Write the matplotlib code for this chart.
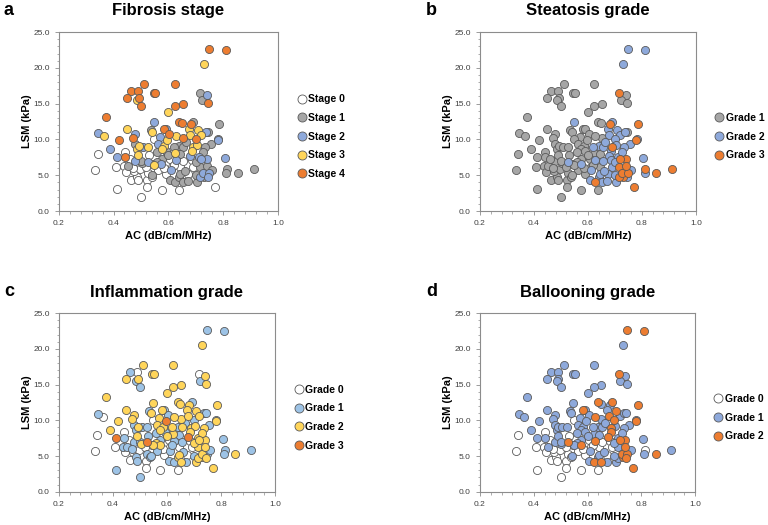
import numpy as np
import matplotlib.pyplot as plt
from matplotlib.lines import Line2D

plt.rcParams['font.family'] = ['Liberation Sans', 'DejaVu Sans']

# AC (dB/cm/MHz) and LSM (kPa) for each patient
ac = [0.747, 0.810, 0.731, 0.512, 0.624, 0.464, 0.490, 0.546, 0.553, 0.450,
      0.492, 0.487, 0.500, 0.652, 0.623, 0.717, 0.741, 0.722, 0.746, 0.600,
      0.374, 0.547, 0.639, 0.650, 0.691, 0.683, 0.786, 0.345, 0.365, 0.448,
      0.478, 0.470, 0.420, 0.535, 0.540, 0.583, 0.590, 0.604, 0.571, 0.548,
      0.652, 0.627, 0.674, 0.707, 0.720, 0.679, 0.700, 0.736, 0.745, 0.780,
      0.782, 0.756, 0.735, 0.388, 0.478, 0.485, 0.492, 0.506, 0.525, 0.563,
      0.585, 0.595, 0.576, 0.640, 0.655, 0.689, 0.703, 0.686, 0.678, 0.713,
      0.741, 0.806, 0.623, 0.591, 0.333, 0.342, 0.409, 0.412, 0.442, 0.438,
      0.444, 0.464, 0.484, 0.488, 0.475, 0.497, 0.500, 0.521, 0.527, 0.539,
      0.545, 0.521, 0.564, 0.576, 0.606, 0.612, 0.643, 0.639, 0.685, 0.691,
      0.673, 0.770, 0.452, 0.541, 0.606, 0.625, 0.640, 0.643, 0.652, 0.671,
      0.706, 0.731, 0.715, 0.728, 0.813, 0.810, 0.853, 0.912, 0.643, 0.503,
      0.576, 0.560, 0.412, 0.442, 0.478, 0.526, 0.575, 0.610, 0.627, 0.714,
      0.728, 0.748, 0.489, 0.548, 0.660, 0.700, 0.720, 0.740, 0.620, 0.590,
      0.655, 0.600, 0.530, 0.470, 0.500, 0.560, 0.620, 0.665, 0.700, 0.745,
      0.760, 0.520, 0.585, 0.460]
lsm = [22.6, 22.5, 20.5, 17.7, 17.7, 16.75, 16.8, 16.5, 16.5, 15.8,
       15.8, 15.5, 14.6, 15.0, 14.6, 16.5, 16.2, 15.5, 15.1, 13.85,
       13.2, 12.45, 12.5, 12.3, 12.5, 12.1, 12.1, 10.9, 10.5, 11.4,
       10.8, 10.15, 9.9, 11.3, 11.0, 11.5, 11.4, 10.7, 10.3, 10.1,
       10.2, 10.5, 11.5, 11.3, 10.65, 10.6, 10.0, 11.0, 11.0, 9.9,
       10.1, 9.4, 8.9, 8.7, 9.4, 8.6, 9.1, 9.0, 9.0, 9.4,
       9.1, 9.9, 8.7, 9.1, 9.0, 8.95, 9.2, 8.4, 7.7, 7.55,
       7.2, 7.4, 8.1, 8.4, 5.7, 7.9, 6.2, 3.1, 8.3, 6.3,
       5.5, 4.4, 4.8, 4.3, 5.6, 5.9, 2.0, 4.3, 5.3, 4.8,
       6.6, 3.3, 5.7, 3.0, 7.3, 6.2, 6.2, 3.0, 7.1, 6.2,
       5.2, 3.3, 6.25, 5.0, 4.3, 4.1, 4.8, 5.2, 4.1, 4.15,
       4.1, 4.8, 6.2, 8.25, 5.9, 5.3, 5.3, 5.9, 8.0, 6.7,
       7.3, 6.8, 7.5, 7.5, 6.95, 6.9, 6.6, 5.7, 7.1, 4.75,
       5.3, 5.3, 7.8, 6.5, 5.6, 6.8, 7.3, 6.3, 6.5, 5.2,
       7.0, 7.8, 7.8, 6.0, 7.0, 8.2, 9.0, 9.6, 5.0, 4.7,
       5.8, 6.2, 6.0, 7.2]

fibrosis = [4, 4, 3, 4, 4, 4, 4, 4, 4, 4, 4, 3, 4, 4, 4, 1, 2, 1, 4, 3,
            4, 2, 4, 4, 1, 4, 1, 2, 3, 3, 2, 4, 4, 1, 3, 4, 2, 4, 2, 0,
            4, 3, 3, 3, 3, 3, 4, 2, 1, 2, 1, 1, 1, 2, 1, 3, 3, 2, 3, 2,
            3, 3, 3, 1, 1, 3, 3, 3, 2, 2, 2, 2, 3, 1, 0, 0, 0, 0, 0, 0,
            0, 0, 0, 0, 0, 0, 0, 0, 0, 0, 0, 0, 0, 0, 0, 0, 0, 0, 0, 0,
            0, 0, 1, 1, 1, 1, 1, 1, 1, 1, 1, 1, 1, 1, 1, 1, 1, 1, 1, 1,
            1, 1, 2, 4, 2, 2, 2, 2, 2, 2, 2, 2, 3, 3, 1, 1, 2, 1, 0, 0,
            0, 1, 0, 0, 1, 1, 1, 1, 1, 2, 1, 0, 0, 0]
steatosis = [2, 2, 2, 1, 1, 1, 1, 1, 1, 1, 1, 1, 1, 1, 1, 3, 1, 1, 1, 1,
             1, 2, 1, 1, 2, 3, 3, 1, 1, 1, 1, 1, 1, 1, 1, 1, 1, 1, 1, 1,
             1, 1, 2, 2, 2, 2, 2, 2, 1, 3, 2, 2, 2, 1, 1, 1, 1, 1, 1, 1,
             1, 1, 1, 2, 2, 3, 2, 2, 2, 2, 3, 2, 1, 1, 1, 1, 1, 1, 1, 1,
             1, 1, 1, 1, 1, 1, 1, 1, 1, 1, 1, 1, 1, 1, 1, 1, 1, 1, 2, 2,
             2, 3, 1, 1, 2, 3, 2, 2, 2, 2, 2, 3, 3, 2, 3, 2, 3, 3, 1, 1,
             1, 1, 1, 1, 1, 2, 2, 2, 2, 3, 3, 3, 1, 1, 2, 2, 3, 3, 1, 1,
             2, 1, 1, 1, 1, 1, 2, 2, 2, 2, 2, 1, 1, 1]
inflammation = [1, 1, 2, 2, 2, 1, 0, 2, 2, 2, 2, 1, 1, 2, 2, 0, 2, 1, 2, 2,
                2, 2, 2, 2, 1, 2, 2, 1, 0, 2, 2, 2, 2, 1, 2, 2, 1, 1, 2, 0,
                2, 2, 2, 2, 2, 2, 1, 1, 1, 2, 1, 1, 2, 2, 1, 1, 2, 1, 1, 2,
                2, 3, 2, 1, 2, 2, 2, 2, 3, 2, 2, 1, 2, 1, 0, 0, 0, 1, 0, 1,
                0, 0, 1, 1, 0, 0, 1, 0, 1, 1, 0, 0, 1, 0, 0, 0, 0, 0, 0, 0,
                0, 2, 1, 1, 1, 1, 2, 2, 2, 1, 2, 2, 2, 2, 1, 1, 2, 1, 1, 2,
                1, 2, 3, 1, 1, 3, 2, 1, 1, 2, 2, 1, 2, 2, 1, 2, 2, 2, 1, 0,
                1, 2, 1, 1, 1, 1, 2, 1, 1, 2, 1, 0, 0, 0]
ballooning = [2, 2, 1, 1, 1, 1, 1, 1, 1, 1, 1, 1, 1, 1, 1, 2, 1, 1, 1, 1,
              1, 1, 2, 1, 2, 1, 2, 1, 1, 1, 1, 1, 1, 1, 1, 2, 1, 1, 1, 0,
              1, 2, 1, 2, 1, 2, 2, 1, 1, 2, 1, 1, 1, 1, 1, 1, 1, 1, 1, 1,
              1, 1, 1, 1, 1, 2, 1, 2, 2, 1, 2, 1, 1, 1, 0, 0, 0, 0, 0, 0,
              0, 0, 0, 0, 0, 0, 0, 0, 0, 0, 0, 0, 0, 0, 0, 0, 0, 0, 0, 0,
              0, 2, 1, 1, 1, 2, 1, 1, 2, 1, 1, 2, 1, 1, 0, 1, 2, 1, 1, 1,
              1, 1, 1, 1, 1, 2, 2, 1, 2, 1, 2, 2, 1, 1, 1, 1, 2, 2, 0, 0,
              0, 1, 0, 0, 1, 1, 1, 1, 1, 2, 1, 0, 0, 0]

WHITE, GRAY, BLUE, LBLUE, YELLOW, ORANGE = '#FFFFFF', '#A6A6A6', '#8EA9DB', '#9DC3E6', '#FFD55A', '#ED7D31'

panels = [
    ('a', 'Fibrosis stage', fibrosis, ['Stage 0', 'Stage 1', 'Stage 2', 'Stage 3', 'Stage 4'],
     [WHITE, GRAY, BLUE, YELLOW, ORANGE], [0, 1, 2, 3, 4]),
    ('b', 'Steatosis grade', steatosis, ['Grade 1', 'Grade 2', 'Grade 3'],
     [GRAY, BLUE, ORANGE], [1, 2, 3]),
    ('c', 'Inflammation grade', inflammation, ['Grade 0', 'Grade 1', 'Grade 2', 'Grade 3'],
     [WHITE, LBLUE, YELLOW, ORANGE], [0, 1, 2, 3]),
    ('d', 'Ballooning grade', ballooning, ['Grade 0', 'Grade 1', 'Grade 2'],
     [WHITE, BLUE, ORANGE], [0, 1, 2]),
]

# axes boxes in figure fractions
boxes = [(0.0764, 0.598, 0.2856, 0.341), (0.625, 0.598, 0.281, 0.341),
         (0.0764, 0.0634, 0.282, 0.340), (0.625, 0.0634, 0.280, 0.340)]

fig = plt.figure(figsize=(7.68, 5.25), dpi=100)
ac_arr = np.array(ac)
lsm_arr = np.array(lsm)
spine_col = '#8C8C8C'
edge_col = '#595959'

for (letter, title, grades, labels, colors, levels), box in zip(panels, boxes):
    ax = fig.add_axes(box)
    g = np.array(grades)
    for lev, col in zip(levels, colors):
        m = g == lev
        ax.scatter(ac_arr[m], lsm_arr[m], s=34, c=col, edgecolors=edge_col, linewidths=0.6, zorder=3)
    ax.set_xlim(0.2, 1.0)
    ax.set_ylim(0, 25)
    ax.set_xticks(np.arange(0.2, 1.01, 0.2))
    ax.set_yticks(np.arange(0, 25.1, 5))
    ax.set_xticklabels([f'{v:.1f}' for v in np.arange(0.2, 1.01, 0.2)])
    ax.set_yticklabels([f'{v:.1f}' for v in np.arange(0, 25.1, 5)])
    ax.yaxis.set_minor_locator(plt.MultipleLocator(1))
    ax.xaxis.set_minor_locator(plt.MultipleLocator(0.04))
    ax.tick_params(which='both', direction='out', color=spine_col, labelsize=6, labelcolor='#404040')
    ax.tick_params(which='major', length=3, width=0.6)
    ax.tick_params(which='minor', length=1.8, width=0.5)
    for sp in ax.spines.values():
        sp.set_color(spine_col)
        sp.set_linewidth(0.8)
    ax.set_xlabel('AC (dB/cm/MHz)', fontsize=8, fontweight='bold', labelpad=3)
    ax.set_ylabel('LSM (kPa)', fontsize=8, fontweight='bold', labelpad=1)
    ax.set_title(title, fontsize=12, fontweight='bold', pad=12)
    ax.text(-0.25, 1.12, letter, transform=ax.transAxes, fontsize=13, fontweight='bold',
            ha='left', va='center')
    handles = [Line2D([], [], marker='o', linestyle='none', markersize=6.5,
                      markerfacecolor=c, markeredgecolor=edge_col, markeredgewidth=0.6)
               for c in colors]
    ax.legend(handles, labels, loc='center left', bbox_to_anchor=(1.06, 0.415),
              frameon=False, prop={'size': 7.5, 'weight': 'bold'}, handletextpad=0.15,
              handlelength=1.0, labelspacing=0.83, borderpad=0)

fig.savefig('out.png', dpi=100)
